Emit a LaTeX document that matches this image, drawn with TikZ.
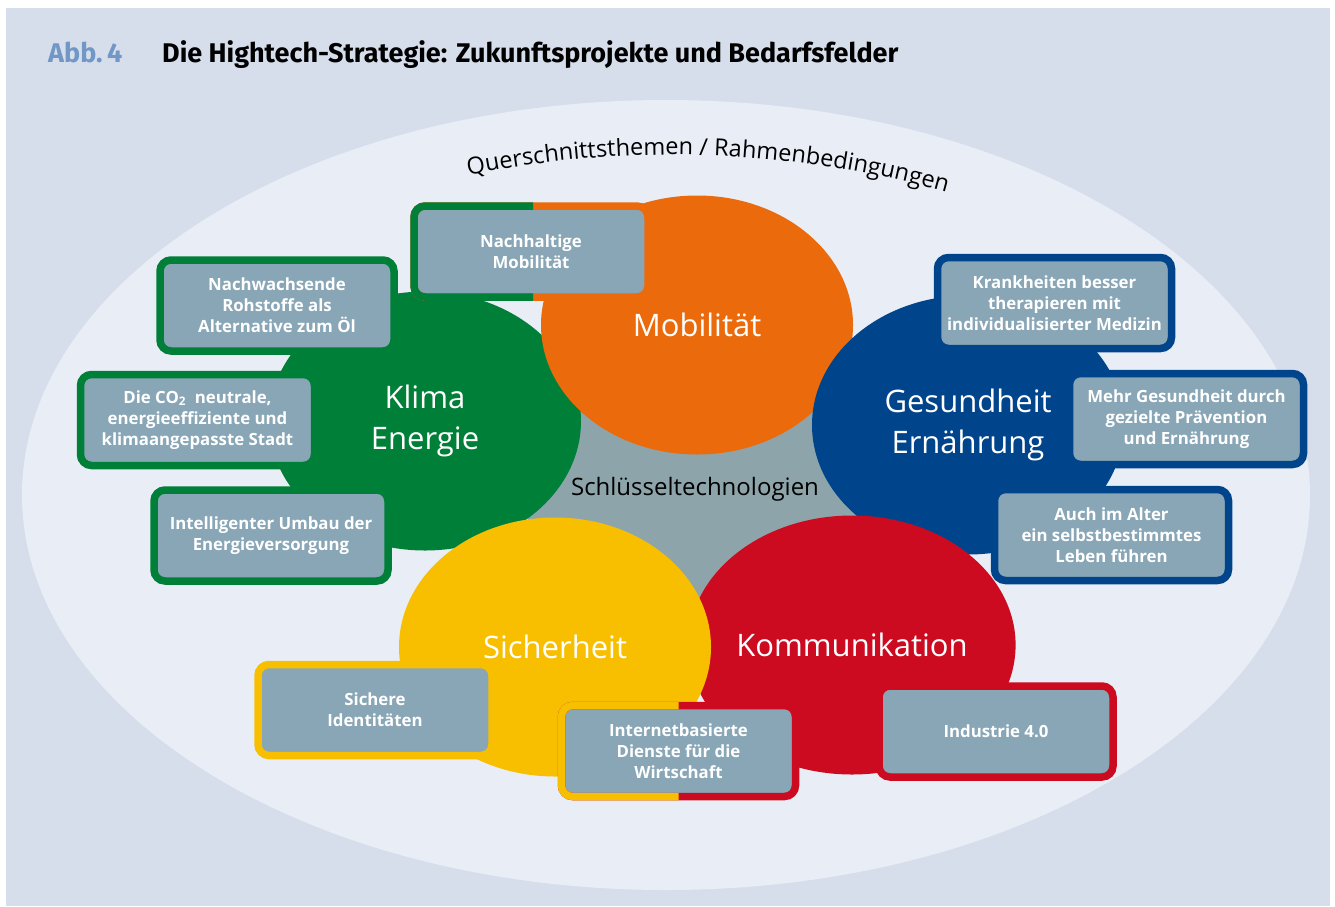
\documentclass[tikz,border=0pt]{standalone}
\usepackage{fontspec}
\setmainfont{Open Sans}
\newfontfamily\titlefont{Fira Sans}
\usetikzlibrary{shapes.geometric,decorations.text}

\definecolor{bgblue}{HTML}{D7DEEB}
\definecolor{ovalblue}{HTML}{E9EEF6}
\definecolor{keygrey}{HTML}{8DA5AA}
\definecolor{boxgrey}{HTML}{88A6B6}
\definecolor{mobOrange}{HTML}{EA6A0C}
\definecolor{klimaGreen}{HTML}{007F38}
\definecolor{gesBlue}{HTML}{00458B}
\definecolor{sichYellow}{HTML}{F7BF00}
\definecolor{komRed}{HTML}{CC0A20}
\definecolor{abbBlue}{HTML}{7097C6}

\tikzset{
  field/.style={ellipse, minimum width=312pt, minimum height=259pt, inner sep=0pt,
    text=white, align=center, font=\fontsize{31}{41}\selectfont},
  project/.style={rectangle, rounded corners=11pt, line width=7.5pt, outer sep=0pt,
    fill=boxgrey, minimum width=234pt, minimum height=91pt, inner sep=1pt,
    text=white, align=center, font=\bfseries\fontsize{16.8}{21}\selectfont},
  frame/.style={line width=7.5pt, rounded corners=11pt}
}

\begin{document}
\begin{tikzpicture}[x=1pt, y=1pt]
  % Fundo e margens
  \useasboundingbox (0,0) rectangle (1335,-906);
  \fill[white] (0,0) rectangle (1335,-906);
  \fill[bgblue] (6,-8) rectangle (1330,-906);
  \fill[ovalblue] (666,-495) ellipse [x radius=644, y radius=395];

  % Titulo
  \node[anchor=base west, inner sep=0pt, text=abbBlue, font=\titlefont\bfseries\fontsize{27}{30}\selectfont] (abb) at (48,-62) {Abb.\,4};
  \node[anchor=base west, inner sep=0pt, font=\titlefont\bfseries\fontsize{27}{30}\selectfont] (titulo) at (162,-62) {Die Hightech-Strategie: Zukunftsprojekte und Bedarfsfelder};

  % Texto curvo em cima
  \path[decorate, decoration={text along path, text align=center,
      text={|\fontsize{23.5}{23.5}\selectfont|Querschnittsthemen / Rahmenbedingungen}}]
    (672.8,-1174.7) ++(106:1020) arc[start angle=106, end angle=70, radius=1020];

  % Centro cinza e os cinco campos
  \node[circle, fill=keygrey, minimum size=340pt, inner sep=0pt] (kern) at (695,-488) {};
  \node[field, fill=klimaGreen] (klima) at (425,-421) {Klima\\Energie};
  \node[field, fill=mobOrange] (mob) at (697,-325) {Mobilität};
  \node[field, fill=gesBlue] (ges) at (968,-425) {Gesundheit\\Ernährung};
  \node[field, fill=komRed] (kom) at (852,-645) {Kommunikation};
  \node[field, fill=sichYellow] (sich) at (555,-647) {Sicherheit};
  \node[font=\fontsize{24}{24}\selectfont] (schluessel) at (695,-489) {Schlüsseltechnologien};

  % Projetos: Klima / Energie
  \node[project, draw=klimaGreen] (rohstoffe) at (277,-305.5) {Nachwachsende\\Rohstoffe als\\Alternative zum Öl};
  \node[project, draw=klimaGreen] (stadt) at (197.5,-420) {Die CO\textsubscript{2}~ neutrale,\\energieeffiziente und\\klimaangepasste Stadt};
  \node[project, draw=klimaGreen] (umbau) at (271,-535.5) {Intelligenter Umbau der\\Energieversorgung};

  % Projeto entre Klima e Mobilitaet
  \node[project, draw=mobOrange] (nachmob) at (531,-251.5) {Nachhaltige\\Mobilität};
  \begin{scope}
    \clip (400,-190) rectangle (533,-310);
    \draw[frame, klimaGreen] (nachmob.south west) rectangle (nachmob.north east);
  \end{scope}

  % Projetos: Gesundheit / Ernaehrung
  \node[project, draw=gesBlue] (medizin) at (1054.5,-303) {Krankheiten besser\\therapieren mit\\individualisierter Medizin};
  \node[project, draw=gesBlue] (praevention) at (1186.5,-419) {Mehr Gesundheit durch\\gezielte Prävention\\und Ernährung};
  \node[project, draw=gesBlue] (alter) at (1111.5,-535) {Auch im Alter\\ein selbstbestimmtes\\Leben führen};

  % Projetos: Sicherheit / Kommunikation
  \node[project, draw=sichYellow] (identitaet) at (375,-710) {Sichere\\Identitäten};
  \node[project, draw=komRed] (dienste) at (678.5,-751) {Internetbasierte\\Dienste für die\\Wirtschaft};
  \begin{scope}
    \clip (540,-690) rectangle (678.5,-815);
    \draw[frame, sichYellow] (dienste.south west) rectangle (dienste.north east);
  \end{scope}
  \node[project, draw=komRed] (industrie) at (996,-731.5) {Industrie 4.0};
\end{tikzpicture}
\end{document}
